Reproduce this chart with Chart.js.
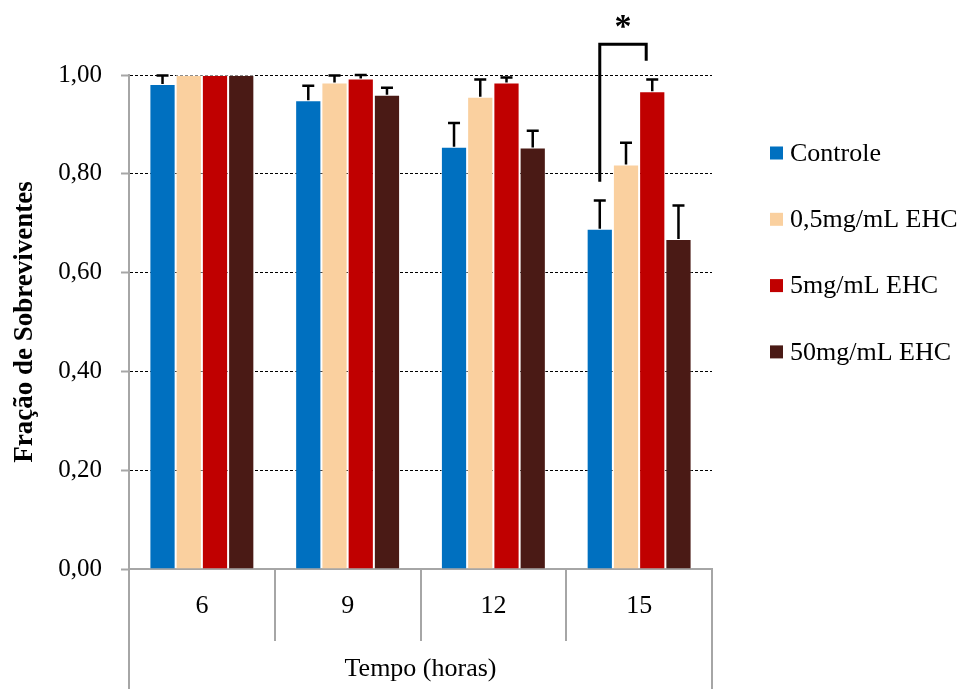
<!DOCTYPE html>
<html lang="pt">
<head>
<meta charset="utf-8">
<title>Fração de Sobreviventes</title>
<script src="https://cdn.jsdelivr.net/npm/chart.js@4/dist/chart.umd.min.js"></script>
<style>
  html, body { margin: 0; padding: 0; background: #ffffff; }
  canvas { display: block; }
</style>
</head>
<body>
<canvas id="chart" width="964" height="689"></canvas>
<script>
// Tempo (horas)
const categories = ['6', '9', '12', '15'];

// Fração de sobreviventes por grupo
const controle = [0.982, 0.949, 0.855, 0.689];
const ehc05 = [1.00, 0.985, 0.956, 0.819];
const ehc5 = [1.00, 0.993, 0.985, 0.967];
const ehc50 = [1.00, 0.960, 0.853, 0.668];

// Desvio (barra de erro, só para cima)
const controleErr = [0.017, 0.029, 0.048, 0.057];
const ehc05Err = [0.000, 0.014, 0.035, 0.044];
const ehc5Err = [0.000, 0.007, 0.010, 0.024];
const ehc50Err = [0.000, 0.014, 0.034, 0.068];

const seriesLabels = ['Controle', '0,5mg/mL EHC', '5mg/mL EHC', '50mg/mL EHC'];
const yTicks = [0, 0.2, 0.4, 0.6, 0.8, 1.0];

// Significância: colchete entre Controle e 5mg/mL EHC às 15 h
const sigGroup = 3;
const sigTop = 1.062;
const sigLeftBottom = 0.784;
const sigRightBottom = 1.029;

const SERIF = '"Liberation Serif", "Times New Roman", serif';
const AXIS_GRAY = '#a6a6a6';

const errorBars = {
  id: 'errorBars',
  afterDatasetsDraw(chart) {
    const ctx = chart.ctx;
    const y = chart.scales.y;
    ctx.save();
    ctx.strokeStyle = '#000';
    ctx.lineWidth = 2.5;
    chart.data.datasets.forEach((ds, i) => {
      const meta = chart.getDatasetMeta(i);
      meta.data.forEach((bar, j) => {
        const e = ds.errors[j];
        if (!e) return;
        const top = y.getPixelForValue(ds.data[j] + e);
        ctx.beginPath();
        ctx.moveTo(bar.x, bar.y);
        ctx.lineTo(bar.x, top);
        ctx.moveTo(bar.x - 6, top);
        ctx.lineTo(bar.x + 6, top);
        ctx.stroke();
      });
    });
    ctx.restore();
  }
};

const significance = {
  id: 'significance',
  afterDatasetsDraw(chart) {
    const ctx = chart.ctx;
    const y = chart.scales.y;
    const left = chart.getDatasetMeta(0).data[sigGroup];
    const right = chart.getDatasetMeta(2).data[sigGroup];
    const xl = left.x;
    const xr = right.x - right.width * 0.23;
    const yt = y.getPixelForValue(sigTop);
    ctx.save();
    ctx.strokeStyle = '#000';
    ctx.lineWidth = 3;
    ctx.lineJoin = 'miter';
    ctx.beginPath();
    ctx.moveTo(xl, y.getPixelForValue(sigLeftBottom));
    ctx.lineTo(xl, yt);
    ctx.lineTo(xr, yt);
    ctx.lineTo(xr, y.getPixelForValue(sigRightBottom));
    ctx.stroke();
    ctx.fillStyle = '#000';
    ctx.font = 'bold 34px ' + SERIF;
    ctx.textAlign = 'center';
    ctx.textBaseline = 'alphabetic';
    ctx.fillText('*', (xl + xr) / 2, yt - 7);
    ctx.restore();
  }
};

// Bordas externas da tabela do eixo X até o fim da figura
const axisFrame = {
  id: 'axisFrame',
  afterDraw(chart) {
    const ctx = chart.ctx;
    const a = chart.chartArea;
    ctx.save();
    ctx.strokeStyle = AXIS_GRAY;
    ctx.lineWidth = 2;
    ctx.beginPath();
    ctx.moveTo(a.left, a.bottom);
    ctx.lineTo(a.left, chart.height);
    ctx.moveTo(a.right, a.bottom);
    ctx.lineTo(a.right, chart.height);
    ctx.stroke();
    ctx.restore();
  }
};

// Legenda vertical à direita
const sideLegend = {
  id: 'sideLegend',
  afterDraw(chart) {
    const ctx = chart.ctx;
    const a = chart.chartArea;
    const x0 = a.right + 58;
    const y0 = a.top + 78;
    const step = 66.3;
    ctx.save();
    ctx.font = '26px ' + SERIF;
    ctx.textBaseline = 'middle';
    ctx.textAlign = 'left';
    chart.data.datasets.forEach((ds, i) => {
      const cy = y0 + i * step;
      ctx.fillStyle = ds.backgroundColor;
      ctx.fillRect(x0, cy - 6.5, 13, 13);
      ctx.fillStyle = '#000';
      ctx.fillText(ds.label, x0 + 20, cy + 1);
    });
    ctx.restore();
  }
};

const colors = ['#0070C0', '#FAD09F', '#C00000', '#4A1A15'];
const values = [controle, ehc05, ehc5, ehc50];
const errs = [controleErr, ehc05Err, ehc5Err, ehc50Err];

new Chart(document.getElementById('chart'), {
  type: 'bar',
  data: {
    labels: categories,
    datasets: values.map((v, i) => ({
      label: seriesLabels[i],
      data: v,
      errors: errs[i],
      backgroundColor: colors[i],
      borderColor: 'rgba(255,255,255,0.55)',
      borderWidth: 1,
      categoryPercentage: 0.72,
      barPercentage: 1.0
    }))
  },
  options: {
    responsive: false,
    animation: false,
    devicePixelRatio: 1,
    layout: { padding: { top: 75, right: 252, bottom: 0, left: 0 } },
    plugins: {
      legend: { display: false },
      tooltip: { enabled: false }
    },
    scales: {
      x: {
        offset: true,
        grid: {
          offset: true,
          drawOnChartArea: false,
          drawTicks: true,
          tickLength: 72,
          color: AXIS_GRAY,
          lineWidth: 2
        },
        border: { color: AXIS_GRAY, width: 2 },
        ticks: {
          padding: -50,
          color: '#000',
          font: { family: SERIF, size: 26 }
        },
        title: {
          display: true,
          text: 'Tempo (horas)',
          color: '#000',
          font: { family: SERIF, size: 26 },
          padding: { top: 0, bottom: 4 }
        },
        afterFit(scale) { scale.height = 120; }
      },
      y: {
        min: 0,
        max: 1,
        afterBuildTicks(scale) { scale.ticks = yTicks.map(v => ({ value: v })); },
        grid: {
          color: ctx => (ctx.tick && ctx.tick.value === 0 ? 'rgba(0,0,0,0)' : '#000'),
          lineWidth: 1,
          tickLength: 8,
          tickColor: AXIS_GRAY,
          tickWidth: 2,
          tickBorderDash: []
        },
        border: { color: AXIS_GRAY, width: 2, dash: [3, 2] },
        ticks: {
          padding: 19,
          color: '#000',
          font: { family: SERIF, size: 25 },
          callback: v => Number(v).toFixed(2).replace('.', ',')
        },
        title: {
          display: true,
          text: 'Fração de Sobreviventes',
          color: '#000',
          font: { family: SERIF, size: 27, weight: 'bold' },
          padding: { top: 9, bottom: 0 }
        },
        afterFit(scale) { scale.width = 129; }
      }
    }
  },
  plugins: [errorBars, significance, axisFrame, sideLegend]
});
</script>
</body>
</html>
